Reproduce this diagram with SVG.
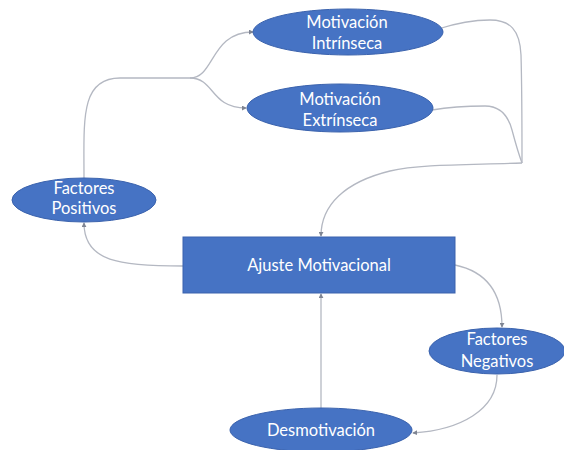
<svg xmlns="http://www.w3.org/2000/svg" width="564" height="450" viewBox="0 0 564 450">
<defs>
<marker id="arr" viewBox="0 0 6 6" refX="5" refY="3" markerWidth="5" markerHeight="5" orient="auto" markerUnits="userSpaceOnUse">
<path d="M0,0 L6,3 L0,6 z" fill="#7f8593"/>
</marker>
<style>
.n{fill:#4673c4;stroke:#3a62ad;stroke-width:1}
.t{fill:#ffffff;font-family:Lato,"Open Sans","Liberation Sans",sans-serif;font-size:16.5px;text-anchor:middle}
.c{fill:none;stroke:#b4b8c2;stroke-width:1.3;marker-end:url(#arr)}
.c0{fill:none;stroke:#b4b8c2;stroke-width:1.3}
</style>
</defs>
<rect width="564" height="450" fill="#ffffff"/>
<g id="connectors">
<path class="c0" d="M84,178 C84,120 80,78 120,78 L190,78"/>
<path class="c" d="M190,78 C215,78 210,32 253,32"/>
<path class="c" d="M190,78 C215,78 210,108 246,108"/>
<path class="c0" d="M438,29 C460,22 475,20 490,20 C510,20 520,30 521,55 C522,90 522,130 522,163"/>
<path class="c0" d="M432,110 C455,106 470,106 485,106 C500,106 508,115 512,130 C516,145 519,155 522,163"/>
<path class="c" d="M522,163 C470,165 420,164 390,171 C345,182 321,205 321,236"/>
<path class="c" d="M183,266 C120,266 84,262 84,223"/>
<path class="c" d="M455,265 C488,272 502,295 502,327"/>
<path class="c" d="M497,375 C497,410 460,430 413,433"/>
<path class="c" d="M321,408 L321,294"/>
</g>
<g id="intrinseca">
<ellipse class="n" cx="348" cy="32" rx="95" ry="23"/>
<text class="t" x="347" y="28">Motivación</text>
<text class="t" x="347" y="49">Intrínseca</text>
</g>
<g id="extrinseca">
<ellipse class="n" cx="340" cy="108" rx="93" ry="24"/>
<text class="t" x="340" y="105">Motivación</text>
<text class="t" x="340" y="126">Extrínseca</text>
</g>
<g id="positivos">
<ellipse class="n" cx="84" cy="200" rx="72" ry="22"/>
<text class="t" x="84" y="194">Factores</text>
<text class="t" x="84" y="214">Positivos</text>
</g>
<g id="ajuste">
<rect class="n" x="183" y="237" width="272" height="56"/>
<text class="t" x="319" y="271">Ajuste Motivacional</text>
</g>
<g id="negativos">
<ellipse class="n" cx="497" cy="351" rx="68" ry="23"/>
<text class="t" x="497" y="345">Factores</text>
<text class="t" x="497" y="367">Negativos</text>
</g>
<g id="desmotivacion">
<ellipse class="n" cx="321" cy="430" rx="91" ry="22"/>
<text class="t" x="321" y="436">Desmotivación</text>
</g>
</svg>
